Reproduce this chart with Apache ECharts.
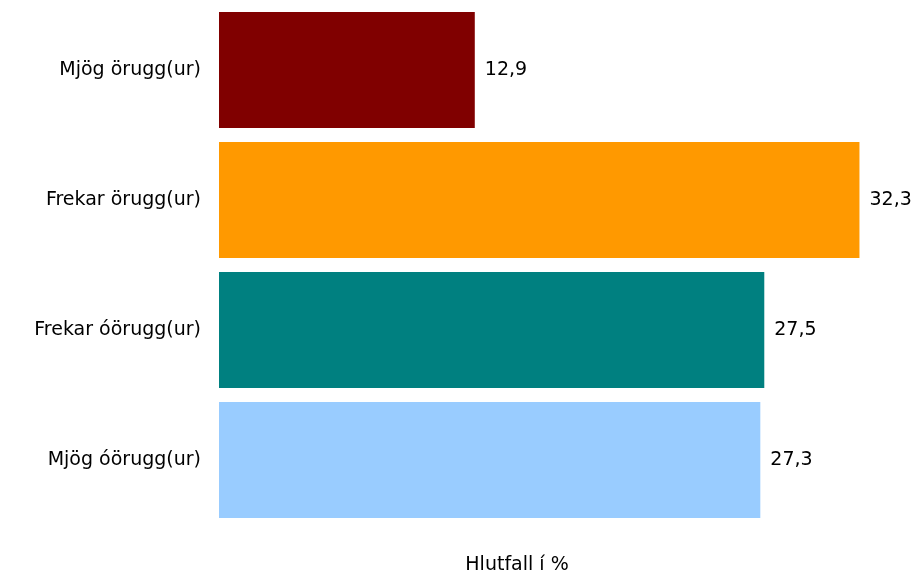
<!DOCTYPE html>
<html>
<head>
<meta charset="utf-8">
<script src="https://cdn.jsdelivr.net/npm/echarts@6/dist/echarts.min.js"></script>
<style>html,body{margin:0;padding:0;background:#fff}#c{width:918px;height:572px}</style>
</head>
<body>
<div id="c"></div>
<script>
var categories = ["Mjög örugg(ur)", "Frekar örugg(ur)", "Frekar óörugg(ur)", "Mjög óörugg(ur)"];
var values = [12.9, 32.3, 27.5, 27.3];
var colors = ["#800000", "#FF9900", "#008080", "#99CCFF"];
var axisTitle = "Hlutfall í %";

var chart = echarts.init(document.getElementById('c'), null, {renderer: 'canvas'});
var font = "'DejaVu Sans', Verdana, sans-serif";
var fs = 19;
chart.setOption({
  animation: false,
  backgroundColor: '#ffffff',
  grid: {left: 219, right: 5, top: 5, bottom: 47, containLabel: false},
  xAxis: {
    type: 'value', min: 0, max: 35, show: false
  },
  yAxis: {
    type: 'category', data: categories, inverse: true,
    axisLine: {show: false}, axisTick: {show: false}, splitLine: {show: false},
    axisLabel: {color: '#000', fontFamily: font, fontSize: fs, margin: 18}
  },
  graphic: [{
    type: 'text', x: 517, y: 556,
    style: {text: axisTitle, fontFamily: font, fontSize: fs, fill: '#000', align: 'center', verticalAlign: 'top'}
  }],
  series: [{
    type: 'bar',
    barCategoryGap: '10.8%',
    data: values.map(function (v, i) { return {value: v, itemStyle: {color: colors[i]}}; }),
    label: {
      show: true, position: 'right', distance: 10, color: '#000',
      fontFamily: font, fontSize: fs,
      formatter: function (p) { return String(p.value).replace('.', ','); }
    }
  }]
});
</script>
</body>
</html>
